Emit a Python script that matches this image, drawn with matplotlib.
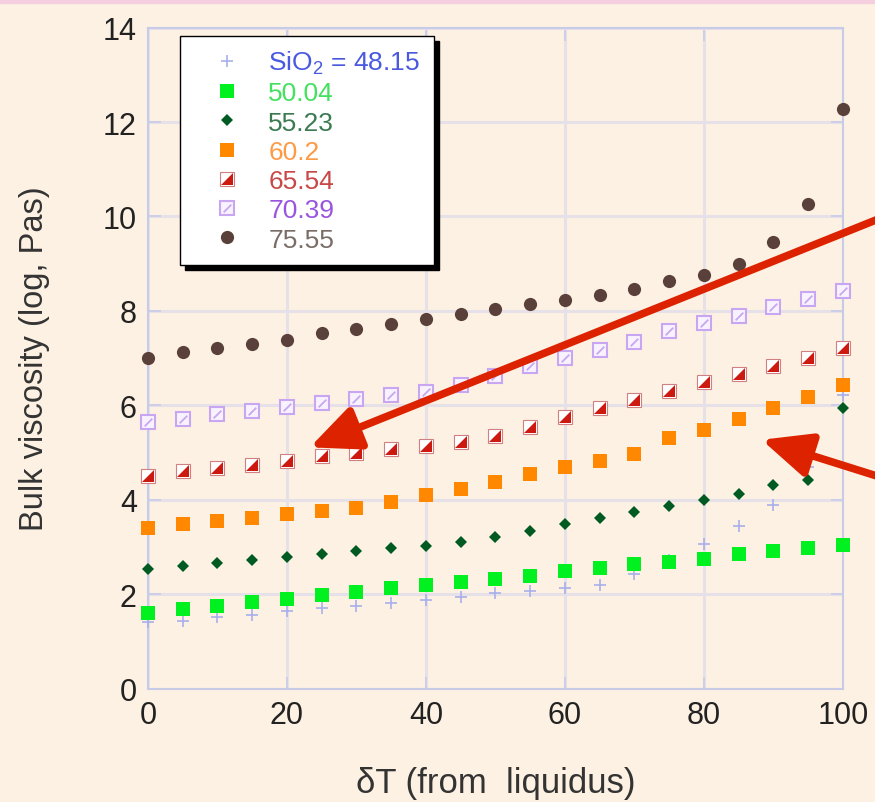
import matplotlib
matplotlib.use('Agg')
import matplotlib.pyplot as plt
from matplotlib.patches import Rectangle

plt.rcParams['font.family'] = ['Liberation Sans', 'DejaVu Sans']
plt.rcParams['mathtext.fontset'] = 'custom'
plt.rcParams['mathtext.rm'] = 'Liberation Sans'
plt.rcParams['mathtext.it'] = 'Liberation Sans:italic'

# data
dT = [0, 5, 10, 15, 20, 25, 30, 35, 40, 45, 50, 55, 60, 65, 70, 75, 80, 85, 90, 95, 100]
sio2_4815 = [1.40, 1.44, 1.51, 1.56, 1.64, 1.70, 1.75, 1.81, 1.87, 1.93, 2.02,
             2.07, 2.14, 2.19, 2.43, 2.72, 3.06, 3.45, 3.89, 4.69, 6.22]
sio2_5004 = [1.61, 1.68, 1.75, 1.84, 1.90, 1.98, 2.04, 2.12, 2.19, 2.26, 2.32,
             2.39, 2.48, 2.55, 2.63, 2.69, 2.74, 2.86, 2.91, 2.97, 3.05]
sio2_5523 = [2.53, 2.60, 2.66, 2.72, 2.78, 2.84, 2.91, 2.97, 3.01, 3.10, 3.22,
             3.34, 3.49, 3.61, 3.73, 3.86, 4.00, 4.12, 4.31, 4.42, 5.94]
sio2_602 = [3.41, 3.49, 3.54, 3.61, 3.69, 3.76, 3.82, 3.96, 4.11, 4.23, 4.37,
            4.54, 4.69, 4.83, 4.97, 5.30, 5.48, 5.71, 5.94, 6.18, 6.43]
sio2_6554 = [4.51, 4.61, 4.67, 4.74, 4.81, 4.92, 4.99, 5.07, 5.13, 5.22, 5.36,
             5.55, 5.75, 5.94, 6.12, 6.31, 6.49, 6.66, 6.84, 7.01, 7.21]
sio2_7039 = [5.64, 5.71, 5.81, 5.88, 5.97, 6.05, 6.13, 6.22, 6.29, 6.42, 6.63,
             6.84, 7.00, 7.18, 7.35, 7.57, 7.74, 7.90, 8.08, 8.25, 8.42]
sio2_7555 = [7.00, 7.12, 7.21, 7.29, 7.39, 7.53, 7.62, 7.72, 7.83, 7.93, 8.04,
             8.14, 8.24, 8.34, 8.46, 8.63, 8.77, 8.99, 9.45, 10.27, 12.28]

labels = ['SiO$_2$ = 48.15', '50.04', '55.23', '60.2', '65.54', '70.39', '75.55']
label_colors = ['#4a5ae0', '#44e060', '#3c7a52', '#ff9a44', '#c84848', '#9a55e0', '#7a6c66']

# arrows (tip, tail)
arrow1 = ((23.3, 5.11), (106, 10.0))
arrow2 = ((88.3, 5.27), (106, 4.45))

bg = '#fdf1e3'
fig = plt.figure(figsize=(8.75, 8.03), dpi=100, facecolor=bg)
fig.patches.append(Rectangle((0, 0.995), 1, 0.005, transform=fig.transFigure,
                             color='#f5cfdf', zorder=0))
ax = fig.add_axes([0.1691, 0.1413, 0.7943, 0.8230])
ax.set_facecolor(bg)

ms = 10
h1, = ax.plot(dT, sio2_4815, '+', ms=9, mew=1.2, color='#a8b0ea', clip_on=False, zorder=3)
h2, = ax.plot(dT, sio2_5004, 's', ms=ms, mew=0, color='#00f020', clip_on=False, zorder=4)
h3, = ax.plot(dT, sio2_5523, 'D', ms=6.5, mew=0, color='#005a22', clip_on=False, zorder=4)
h4, = ax.plot(dT, sio2_602, 's', ms=ms, mew=0, color='#ff8800', clip_on=False, zorder=4)
h5a, = ax.plot(dT, sio2_6554, 's', ms=ms, mfc='white', mec='#d08080', mew=0.8,
               clip_on=False, zorder=4)
h5b, = ax.plot(dT, sio2_6554, marker=[(-1, -1), (1, -1), (1, 1)], ls='none', ms=ms - 1,
               mew=0, color='#cc1a10', clip_on=False, zorder=4)
h6a, = ax.plot(dT, sio2_7039, 's', ms=ms, mfc='#f8f2ff', mec='#c9a6f2', mew=1.5,
               clip_on=False, zorder=4)
h6b, = ax.plot(dT, sio2_7039, marker=[(-1, -1), (1, 1)], ls='none', ms=5.5,
               mew=1.3, color='#c9a6f2', clip_on=False, zorder=4)
h7, = ax.plot(dT, sio2_7555, 'o', ms=9.5, mew=0, color='#5a403a', clip_on=False, zorder=5)

ax.set_xlim(0, 100)
ax.set_ylim(0, 14)
ax.set_xticks(range(0, 101, 20))
ax.set_yticks(range(0, 15, 2))
ax.grid(True, color='#e6e1e8', lw=2.2, zorder=1)
ax.set_axisbelow(True)
for side in ['left', 'bottom', 'right', 'top']:
    ax.spines[side].set_color('#c8cbe8')
    ax.spines[side].set_linewidth(1.5)
ax.tick_params(direction='in', length=9, width=1.2, color='#c8cbe8',
               labelsize=22, labelcolor='#222222', top=True, right=True, pad=8)
ax.set_xlabel('δT (from  liquidus)', fontsize=25, color='#333333', labelpad=26)
ax.set_ylabel('Bulk viscosity (log, Pas)', fontsize=23.5, color='#333333', labelpad=38)

leg = ax.legend([h1, h2, h3, h4, (h5a, h5b), (h6a, h6b), h7], labels,
                loc='upper left', bbox_to_anchor=(0.046, 0.988), fontsize=19,
                labelcolor=label_colors, frameon=True, fancybox=False,
                edgecolor='black', facecolor='white', framealpha=1,
                shadow={'color': 'black', 'alpha': 1, 'ox': 4, 'oy': -4},
                labelspacing=0.2, handletextpad=0.25, borderpad=0.5,
                handlelength=2.6, borderaxespad=0)
leg.get_frame().set_linewidth(1.0)
leg.set_zorder(6)

for tip, tail in [arrow1, arrow2]:
    ax.annotate('', xy=tip, xytext=tail, annotation_clip=False, zorder=7,
                arrowprops=dict(arrowstyle='-|>,head_length=1.0,head_width=0.45',
                                lw=5.5, color='#dd2200', mutation_scale=30,
                                shrinkA=0, shrinkB=0))

fig.savefig('out.png', dpi=100, facecolor=bg)
